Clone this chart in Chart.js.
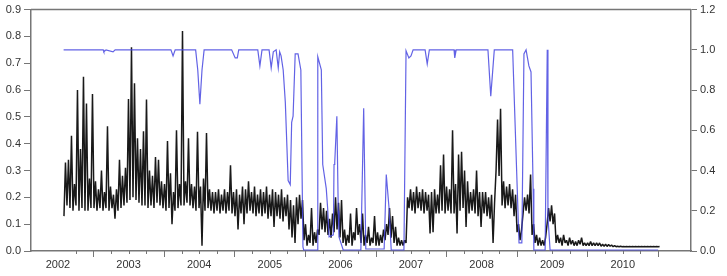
<!DOCTYPE html>
<html>
<head>
<meta charset="utf-8">
<script src="https://cdn.jsdelivr.net/npm/chart.js@4/dist/chart.umd.min.js"></script>
<style>
  html, body { margin: 0; padding: 0; background: #fff; }
  #wrap { width: 727px; height: 276px; }
</style>
</head>
<body>
<div id="wrap"><canvas id="myChart" width="727" height="276"></canvas></div>
<script>
// tick labels
const yearLabels = [2002, 2003, 2004, 2005, 2006, 2007, 2008, 2009, 2010];
const leftTicks = [0, 0.1, 0.2, 0.3, 0.4, 0.5, 0.6, 0.7, 0.8, 0.9];
const rightTicks = [0, 0.2, 0.4, 0.6, 0.8, 1.0, 1.2];

// black series (left axis): low / high of each half-month block
const blackStart = 2002.085;
const blackStep = 0.0425;
const blackLow = [
  0.13, 0.17, 0.16, 0.15, 0.17, 0.15, 0.16, 0.15, 0.15, 0.16,
  0.16, 0.15, 0.16, 0.15, 0.16, 0.15, 0.16, 0.12, 0.15, 0.16,
  0.17, 0.18, 0.19, 0.20, 0.19, 0.18, 0.17, 0.17, 0.16, 0.17,
  0.16, 0.18, 0.17, 0.16, 0.15, 0.16, 0.10, 0.15, 0.16, 0.17,
  0.17, 0.18, 0.17, 0.16, 0.15, 0.16, 0.02, 0.15, 0.16, 0.15,
  0.14, 0.15, 0.14, 0.15, 0.14, 0.15, 0.14, 0.13, 0.08, 0.14,
  0.10, 0.14, 0.15, 0.14, 0.13, 0.14, 0.13, 0.14, 0.12, 0.13,
  0.09, 0.13, 0.12, 0.11, 0.13, 0.08, 0.05, 0.03, 0.10, 0.12,
  0.04, 0.02, 0.03, 0.02, 0.03, 0.06, 0.08, 0.07, 0.06, 0.05,
  0.07, 0.08, 0.05, 0.03, 0.02, 0.03, 0.02, 0.04, 0.06, 0.03,
  0.02, 0.03, 0.02, 0.03, 0.02, 0.02, 0.03, 0.04, 0.06, 0.05,
  0.03, 0.02, 0.02, 0.02, 0.03, 0.16, 0.15, 0.14, 0.16, 0.15,
  0.14, 0.15, 0.065, 0.07, 0.14, 0.14, 0.15, 0.14, 0.15, 0.14,
  0.14, 0.065, 0.15, 0.16, 0.09, 0.14, 0.15, 0.14, 0.13, 0.09,
  0.14, 0.13, 0.12, 0.03, 0.30, 0.28, 0.17, 0.16, 0.17, 0.16,
  0.13, 0.07, 0.04, 0.14, 0.15, 0.14, 0.06, 0.03, 0.02, 0.02,
  0.02, 0.10, 0.11, 0.10, 0.03, 0.03, 0.02, 0.03, 0.02, 0.025,
  0.02, 0.02, 0.025, 0.02, 0.02, 0.02, 0.02, 0.02, 0.02, 0.018,
  0.018, 0.017, 0.018, 0.016, 0.016, 0.016, 0.016, 0.016, 0.016, 0.016,
  0.016, 0.016, 0.016, 0.016, 0.016, 0.016, 0.016, 0.016, 0.016
];
const blackHigh = [
  0.33, 0.34, 0.43, 0.25, 0.60, 0.38, 0.65, 0.55, 0.27, 0.585,
  0.26, 0.23, 0.30, 0.22, 0.465, 0.24, 0.21, 0.23, 0.34, 0.28,
  0.31, 0.567, 0.76, 0.625, 0.42, 0.38, 0.446, 0.565, 0.30, 0.28,
  0.35, 0.34, 0.26, 0.25, 0.41, 0.29, 0.22, 0.45, 0.25, 0.82,
  0.26, 0.42, 0.25, 0.24, 0.445, 0.24, 0.27, 0.44, 0.23, 0.22,
  0.22, 0.23, 0.21, 0.23, 0.22, 0.32, 0.22, 0.23, 0.21, 0.24,
  0.23, 0.26, 0.22, 0.24, 0.21, 0.23, 0.22, 0.24, 0.21, 0.23,
  0.22, 0.21, 0.23, 0.20, 0.21, 0.19, 0.17, 0.20, 0.21, 0.19,
  0.10, 0.06, 0.16, 0.07, 0.08, 0.18, 0.16, 0.15, 0.12, 0.14,
  0.20, 0.18, 0.19, 0.08, 0.06, 0.14, 0.07, 0.16, 0.10, 0.14,
  0.06, 0.09, 0.05, 0.13, 0.07, 0.06, 0.08, 0.10, 0.16, 0.13,
  0.09, 0.05, 0.04, 0.04, 0.20, 0.23, 0.22, 0.24, 0.22, 0.23,
  0.22, 0.21, 0.22, 0.23, 0.21, 0.32, 0.36, 0.24, 0.23, 0.45,
  0.25, 0.36, 0.37, 0.30, 0.26, 0.22, 0.23, 0.30, 0.22, 0.22,
  0.22, 0.20, 0.21, 0.18, 0.49, 0.53, 0.26, 0.24, 0.25, 0.23,
  0.21, 0.10, 0.08, 0.20, 0.21, 0.285, 0.10, 0.06, 0.05, 0.04,
  0.05, 0.16, 0.17, 0.14, 0.06, 0.05, 0.06, 0.04, 0.05, 0.04,
  0.035, 0.04, 0.05, 0.03, 0.03, 0.035, 0.03, 0.03, 0.03, 0.025,
  0.025, 0.024, 0.022, 0.02, 0.018, 0.018, 0.017, 0.017, 0.017, 0.017,
  0.017, 0.017, 0.017, 0.017, 0.017, 0.017, 0.017, 0.017, 0.017
];

// blue series (right axis): regime probability
const blueDates = [
  2002.08, 2002.64, 2002.65, 2002.68, 2002.78, 2002.81, 2003.60, 2003.63, 2003.66, 2003.95,
  2003.98, 2004.01, 2004.04, 2004.07, 2004.46, 2004.51, 2004.54, 2004.56, 2004.83, 2004.86,
  2004.89, 2004.99, 2005.02, 2005.05, 2005.09, 2005.12, 2005.14, 2005.16, 2005.19, 2005.22,
  2005.26, 2005.29, 2005.31, 2005.33, 2005.36, 2005.40, 2005.44, 2005.47, 2005.48, 2005.67,
  2005.68, 2005.73, 2005.75, 2005.80, 2005.82, 2005.84, 2005.90, 2005.91, 2005.92, 2005.95,
  2005.97, 2005.98, 2006.04, 2006.29, 2006.33, 2006.36, 2006.62, 2006.65, 2006.69, 2006.72,
  2006.90, 2006.93, 2006.97, 2007.00, 2007.03, 2007.20, 2007.23, 2007.26, 2007.61, 2007.62,
  2007.64, 2008.09, 2008.13, 2008.18, 2008.44, 2008.53, 2008.57, 2008.60, 2008.63, 2008.67,
  2008.70, 2008.73, 2008.74, 2008.90, 2008.93, 2008.94, 2008.97, 2010.50
];
const blueProb = [
  1.0, 1.0, 0.99, 1.0, 0.99, 1.0, 1.0, 0.97, 1.0, 1.0,
  0.9, 0.73, 0.9, 1.0, 1.0, 0.96, 0.96, 1.0, 1.0, 0.92,
  1.0, 1.0, 0.91, 0.99, 1.0, 0.91, 0.99, 0.97, 0.9, 0.74,
  0.35, 0.33, 0.64, 0.67, 0.98, 0.98, 0.90, 0.02, 0.005, 0.005,
  0.965, 0.90, 0.43, 0.31, 0.21, 0.07, 0.08, 0.43, 0.44, 0.67,
  0.2, 0.07, 0.005, 0.005, 0.71, 0.01, 0.01, 0.38, 0.21, 0.005,
  0.005, 0.995, 0.96, 0.97, 1.0, 1.0, 0.93, 1.0, 1.0, 0.96,
  1.0, 1.0, 0.77, 1.0, 1.0, 0.04, 0.04, 0.98, 1.0, 0.92,
  0.89, 0.31, 0.005, 0.005, 1.0, 0.17, 0.005, 0.005
];

// build point lists
const blackPoints = [];
blackLow.forEach((v, i) => {
  blackPoints.push({ x: blackStart + i * blackStep, y: v });
  blackPoints.push({ x: blackStart + (i + 0.5) * blackStep, y: blackHigh[i] });
});
const bluePoints = blueDates.map((d, i) => ({ x: d, y: blueProb[i] }));

const axisColor = '#767676';
const textColor = '#333';

// top frame line + quarterly tick marks on the x axis
const framePlugin = {
  id: 'frame',
  afterDraw(chart) {
    const ctx = chart.ctx;
    const a = chart.chartArea;
    const xs = chart.scales.x;
    ctx.save();
    ctx.strokeStyle = axisColor;
    ctx.lineWidth = 1.5;
    ctx.beginPath();
    ctx.moveTo(a.left, a.top);
    ctx.lineTo(a.right, a.top);
    ctx.stroke();
    ctx.lineWidth = 1;
    for (let q = 2002.25; q <= 2010.5 + 1e-9; q += 0.25) {
      const px = Math.round(xs.getPixelForValue(q)) + 0.5;
      const isMid = Math.abs((q % 1) - 0.5) < 1e-6;
      ctx.beginPath();
      ctx.moveTo(px, a.bottom);
      ctx.lineTo(px, a.bottom + (isMid ? 6 : 3));
      ctx.stroke();
    }
    ctx.restore();
  }
};

Chart.defaults.font.family = "'Liberation Sans', Arial, sans-serif";
Chart.defaults.font.size = 11;
Chart.defaults.color = textColor;

const ctx = document.getElementById('myChart').getContext('2d');
new Chart(ctx, {
  type: 'line',
  data: {
    datasets: [
      {
        data: bluePoints,
        yAxisID: 'yR',
        borderColor: 'rgba(70, 70, 225, 0.85)',
        borderWidth: 1.2,
        pointRadius: 0,
        tension: 0,
        order: 0
      },
      {
        data: blackPoints,
        yAxisID: 'yL',
        borderColor: 'rgba(0, 0, 0, 0.9)',
        borderWidth: 1.5,
        borderJoinStyle: 'bevel',
        pointRadius: 0,
        tension: 0,
        order: 1
      }
    ]
  },
  options: {
    responsive: false,
    animation: false,
    layout: { padding: { top: 5, left: 0, right: 0, bottom: 0 } },
    plugins: { legend: { display: false }, tooltip: { enabled: false } },
    scales: {
      x: {
        type: 'linear',
        min: 2001.618,
        max: 2010.966,
        afterBuildTicks: s => { s.ticks = yearLabels.map(v => ({ value: v })); },
        afterFit: s => { s.height = 25; },
        ticks: { autoSkip: false, maxRotation: 0, padding: 1, callback: v => String(v) },
        grid: { display: false, drawTicks: true, tickLength: 6 },
        border: { display: true, color: axisColor, width: 1.5 }
      },
      yL: {
        position: 'left',
        min: 0,
        max: 0.9,
        afterBuildTicks: s => { s.ticks = leftTicks.map(v => ({ value: v })); },
        afterFit: s => { s.width = 31; },
        ticks: { padding: 3, callback: v => v.toFixed(1) },
        grid: { drawOnChartArea: false, tickLength: 7, color: axisColor },
        border: { display: true, color: axisColor, width: 1.5 }
      },
      yR: {
        position: 'right',
        min: 0,
        max: 1.2,
        afterBuildTicks: s => { s.ticks = rightTicks.map(v => ({ value: v })); },
        afterFit: s => { s.width = 36; },
        ticks: { padding: 3, callback: v => v.toFixed(1) },
        grid: { drawOnChartArea: false, tickLength: 6, color: axisColor },
        border: { display: true, color: axisColor, width: 1.5 }
      }
    }
  },
  plugins: [framePlugin]
});
</script>
</body>
</html>
